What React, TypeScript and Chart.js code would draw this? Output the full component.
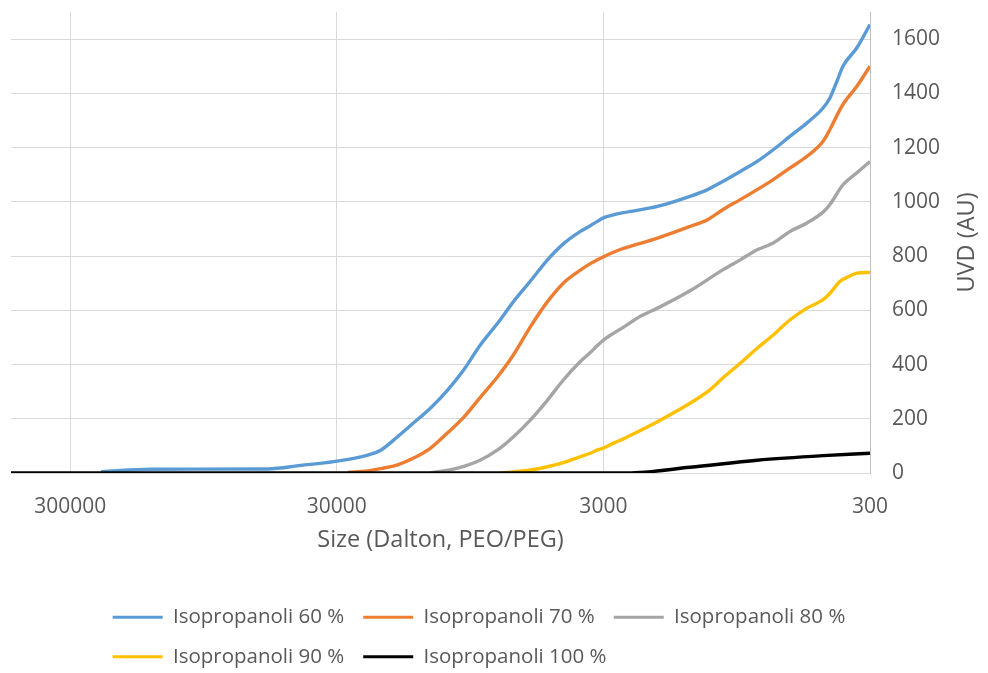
import React, { useEffect, useRef } from 'react';
import { Chart, registerables } from 'chart.js';

Chart.register(...registerables);

// ---- data ----
const sizeTicks = [300, 3000, 30000, 300000];
const seriesLabels = [
  'Isopropanoli 60 %',
  'Isopropanoli 70 %',
  'Isopropanoli 80 %',
  'Isopropanoli 90 %',
  'Isopropanoli 100 %',
];
const seriesColors = ['#5B9BD5', '#ED7D31', '#A5A5A5', '#FFC000', '#000000'];

const ipa60Size = [229700, 149200, 54400, 40900, 30800, 22960, 20530, 17730, 15440, 13340, 11520, 10030, 8670, 7480, 6520, 5630, 4860, 4240, 3660, 3360, 3160, 3000, 2750, 2520, 1880, 1420, 1220, 1070, 920, 795, 692, 598, 517, 450, 424, 399, 379, 336, 300];
const ipa60Uvd = [5, 14, 15, 28, 42, 66, 84, 134, 185, 240, 306, 380, 473, 552, 632, 708, 786, 845, 891, 912, 928, 941, 952, 960, 983, 1020, 1045, 1075, 1112, 1149, 1192, 1242, 1291, 1346, 1383, 1445, 1500, 1568, 1654];

const ipa70Size = [27300, 22960, 20530, 17730, 15440, 13340, 11520, 10030, 8670, 7480, 6520, 5630, 4860, 4240, 3660, 3360, 3000, 2750, 2520, 1880, 1420, 1220, 1070, 920, 795, 692, 598, 517, 450, 379, 336, 300];
const ipa70Uvd = [2, 8, 16, 30, 55, 92, 148, 205, 280, 355, 436, 540, 632, 700, 748, 772, 797, 814, 828, 866, 909, 934, 971, 1008, 1045, 1082, 1125, 1168, 1223, 1359, 1426, 1500];

const ipa80Size = [13340, 10570, 8670, 7480, 6520, 5630, 4860, 4240, 3660, 3360, 3160, 3000, 2750, 2520, 2180, 1880, 1420, 1070, 920, 795, 692, 598, 517, 450, 424, 379, 336, 300];
const ipa80Uvd = [0, 18, 48, 85, 134, 196, 269, 343, 411, 444, 470, 490, 515, 538, 578, 608, 672, 749, 786, 823, 848, 891, 922, 962, 990, 1063, 1107, 1149];

const ipa90Size = [7290, 5630, 4860, 4240, 3660, 3360, 3160, 3000, 2750, 2520, 2380, 1880, 1420, 1220, 1070, 920, 795, 692, 598, 517, 450, 424, 389, 356, 336, 300];
const ipa90Uvd = [0, 11, 23, 38, 60, 73, 85, 92, 110, 126, 138, 189, 257, 300, 350, 405, 460, 509, 565, 608, 639, 663, 706, 727, 737, 740];

const ipa100Size = [500000, 2440, 1420, 795, 450, 300];
const ipa100Uvd = [0, 0, 21, 47, 64, 73];

const seriesSizes = [ipa60Size, ipa70Size, ipa80Size, ipa90Size, ipa100Size];
const seriesUvd = [ipa60Uvd, ipa70Uvd, ipa80Uvd, ipa90Uvd, ipa100Uvd];

const FONT = "'Open Sans', 'Segoe UI', sans-serif";
const TEXT = '#595959';
const FS_TICK = 21;
const FS_TITLE = 23.5;
const FS_LEGEND = 20.5;

const yTitlePlugin = {
  id: 'yTitle',
  afterDraw(chart: any) {
    const { ctx, chartArea } = chart;
    ctx.save();
    ctx.translate(chart.width - 21, (chartArea.top + chartArea.bottom) / 2);
    ctx.rotate(-Math.PI / 2);
    ctx.font = `${FS_TITLE}px ${FONT}`;
    ctx.fillStyle = TEXT;
    ctx.textAlign = 'center';
    ctx.textBaseline = 'middle';
    ctx.fillText('UVD (AU)', 0, 0);
    ctx.restore();
  },
};

export default function App() {
  const ref = useRef<HTMLCanvasElement | null>(null);

  useEffect(() => {
    if (!ref.current) return;
    const datasets = seriesLabels.map((label, i) => ({
      label,
      data: seriesSizes[i].map((s, j) => ({ x: s, y: seriesUvd[i][j] })),
      borderColor: seriesColors[i],
      backgroundColor: seriesColors[i],
      borderWidth: 3.4,
      pointRadius: 0,
      fill: false,
      tension: 0.4,
      cubicInterpolationMode: 'monotone' as const,
      order: seriesLabels.length - i,
    }));

    const chart = new Chart(ref.current, {
      type: 'line',
      data: { datasets },
      plugins: [yTitlePlugin],
      options: {
        animation: false,
        responsive: false,
        layout: { padding: { left: 11, top: 12, right: 41, bottom: -4 } },
        scales: {
          x: {
            type: 'logarithmic',
            reverse: true,
            min: 300,
            max: 500000,
            afterBuildTicks: (s: any) => {
              s.ticks = sizeTicks.map((v) => ({ value: v }));
            },
            afterFit: (s: any) => {
              s.height = 115;
              s.paddingLeft = 0;
              s.paddingRight = 0;
            },
            grid: { color: '#d9d9d9', lineWidth: 1, drawTicks: false },
            border: { color: '#d9d9d9', width: 1 },
            ticks: {
              padding: 21,
              color: TEXT,
              font: { family: FONT, size: FS_TICK },
              autoSkip: false,
              maxRotation: 0,
              callback: (v: any) => String(v),
            },
            title: {
              display: true,
              text: 'Size (Dalton, PEO/PEG)',
              color: TEXT,
              font: { family: FONT, size: FS_TITLE },
              padding: { top: 0, bottom: 34 },
            },
          },
          y: {
            position: 'right',
            min: 0,
            max: 1700,
            afterFit: (s: any) => {
              s.width = 77;
              s.paddingTop = 0;
              s.paddingBottom = 0;
            },
            grid: { color: '#d9d9d9', lineWidth: 1, drawTicks: false },
            border: { color: '#bfbfbf', width: 1 },
            ticks: {
              stepSize: 200,
              includeBounds: false,
              padding: 22,
              color: TEXT,
              font: { family: FONT, size: FS_TICK },
              callback: (v: any) => String(v),
            },
          },
        },
        plugins: {
          tooltip: { enabled: false },
          legend: {
            position: 'bottom',
            labels: {
              color: TEXT,
              font: { family: FONT, size: FS_LEGEND },
              boxWidth: 50,
              boxHeight: 3,
              padding: 19,
              generateLabels: (chart: any) => {
                const items = Chart.defaults.plugins.legend.labels
                  .generateLabels(chart)
                  .sort((a: any, b: any) => a.datasetIndex - b.datasetIndex)
                  .map((it: any) => ({
                    ...it,
                    fillStyle: seriesColors[it.datasetIndex],
                    strokeStyle: seriesColors[it.datasetIndex],
                    lineWidth: 0,
                  }));
                items.push({
                  text: 'Isopropanoli 8 %',
                  fillStyle: 'rgba(0,0,0,0)',
                  strokeStyle: 'rgba(0,0,0,0)',
                  fontColor: 'rgba(0,0,0,0)',
                  lineWidth: 0,
                  hidden: false,
                  datasetIndex: 99,
                } as any);
                return items;
              },
            },
            onClick: () => {},
          },
        },
      },
    } as any);
    return () => chart.destroy();
  }, []);

  return (
    <div style={{ position: 'fixed', left: 0, top: 0, width: 988, height: 673, background: '#fff' }}>
      <canvas ref={ref} width={988} height={673} style={{ display: 'block', width: 988, height: 673 }} />
    </div>
  );
}
